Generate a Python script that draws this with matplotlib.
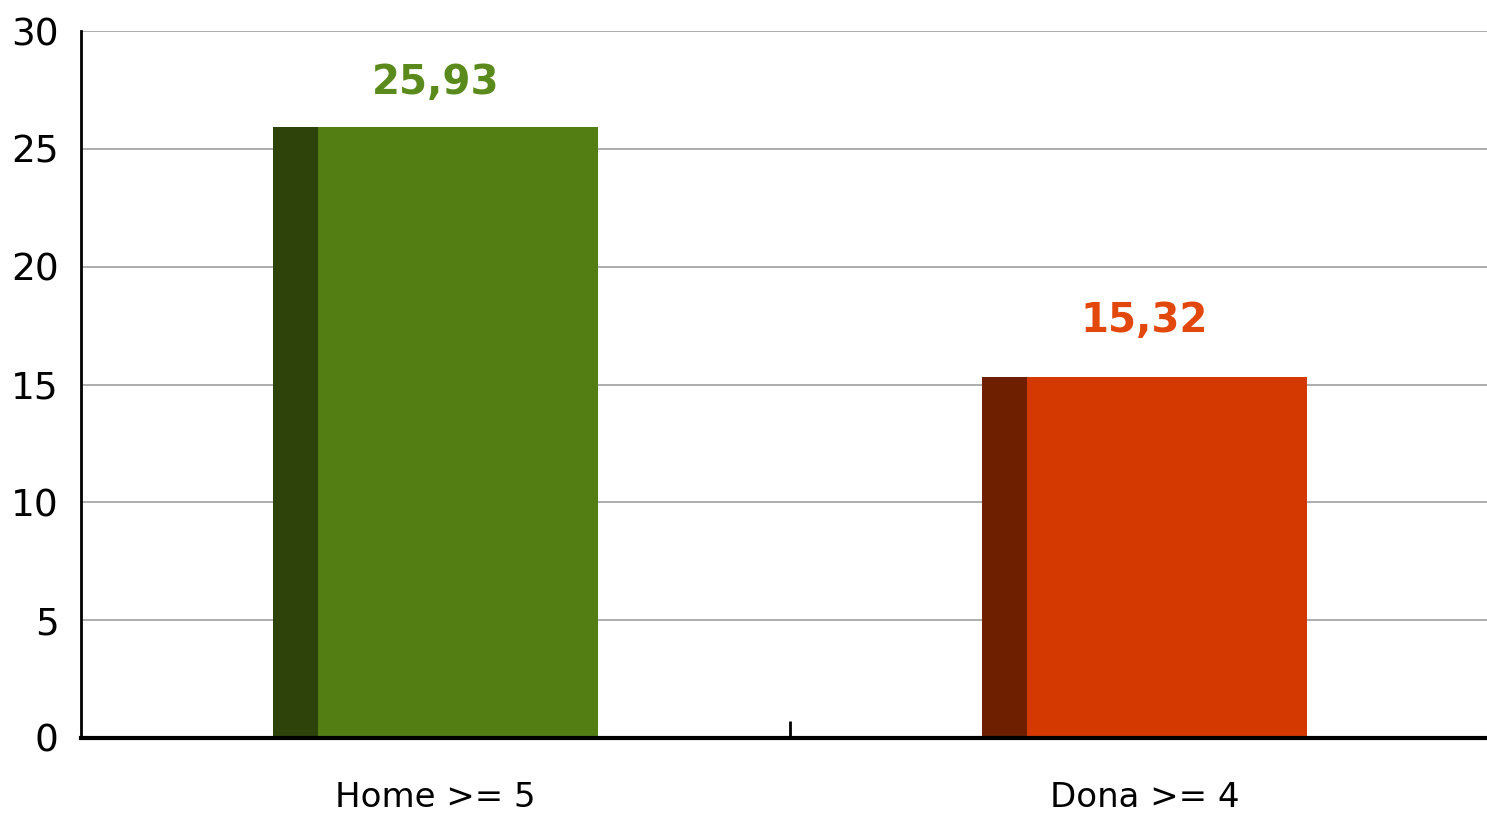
import matplotlib.pyplot as plt
import matplotlib as mpl

mpl.rcParams['font.family'] = ['DejaVu Sans']

categories = ['Home >= 5', 'Dona >= 4']
values = [25.93, 15.32]
value_labels = ['25,93', '15,32']
yticks = [0, 5, 10, 15, 20, 25, 30]

face_colors = ['#537E14', '#D33900']
side_colors = ['#2D430A', '#6D1F00']
text_colors = ['#5A8A1C', '#E2470C']
label_offsets = [24, 36]  # px above bar top

fig = plt.figure(figsize=(14.87, 8.17), dpi=100)
ax = fig.add_axes([81 / 1487, 79 / 817, 1418 / 1487, 707 / 817])

bar_w = 0.459
side_w = 0.064
for i, v in enumerate(values):
    left = i - bar_w / 2
    ax.bar(left, v, width=side_w, align='edge', color=side_colors[i], zorder=3)
    ax.bar(left + side_w, v, width=bar_w - side_w, align='edge', color=face_colors[i], zorder=3)
    ax.annotate(value_labels[i], (i, v), xytext=(0, label_offsets[i]), textcoords='offset pixels',
                ha='center', va='bottom', fontsize=29, fontweight='bold', color=text_colors[i])

ax.set_xlim(-0.5, 1.5)
ax.set_ylim(0, 30)
ax.set_yticks(yticks)
ax.set_yticklabels([str(t) for t in yticks], fontsize=27)
ax.set_xticks(range(len(categories)))
ax.set_xticklabels(categories, fontsize=24.5)
ax.set_xticks([0.5], minor=True)
ax.tick_params(axis='x', which='major', length=0, pad=31)
ax.tick_params(axis='x', which='minor', length=12, width=2, direction='in')
ax.tick_params(axis='y', length=0, pad=16)

ax.grid(axis='y', color='#A0A0A0', linewidth=1.2, zorder=0)
for s in ['top', 'right']:
    ax.spines[s].set_visible(False)
ax.spines['left'].set_linewidth(2)
ax.spines['bottom'].set_linewidth(3)
ax.spines['left'].set_zorder(4)
ax.spines['bottom'].set_zorder(4)

fig.savefig('out.png', dpi=100)
